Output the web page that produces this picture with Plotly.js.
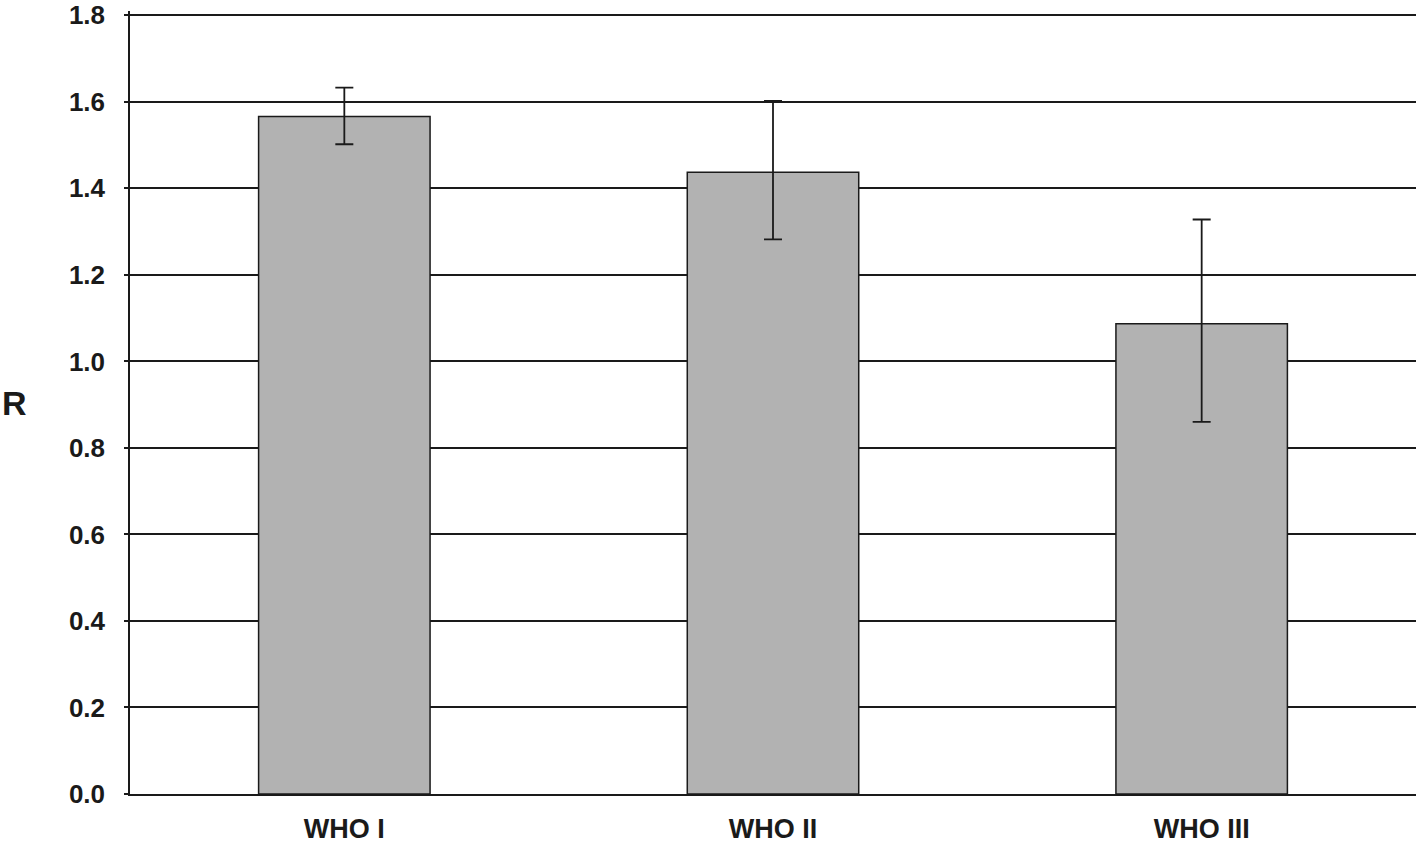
<!DOCTYPE html>
<html>
<head>
<meta charset="utf-8">
<script src="https://cdn.plot.ly/plotly-3.0.1.min.js"></script>
<style>
  html, body { margin: 0; padding: 0; background: #fff; }
  #plot { width: 1418px; height: 847px; }
</style>
</head>
<body>
<div id="plot"></div>
<script>
var groups = ["WHO I", "WHO II", "WHO III"];
var rValues = [1.566, 1.437, 1.087];
var errPlus = [0.067, 0.165, 0.241];
var errMinus = [0.064, 0.155, 0.227];
var yTicks = [0, 0.2, 0.4, 0.6, 0.8, 1.0, 1.2, 1.4, 1.6, 1.8];
var yTickText = ["0.0", "0.2", "0.4", "0.6", "0.8", "1.0", "1.2", "1.4", "1.6", "1.8"];

var trace = {
  x: groups,
  y: rValues,
  type: "bar",
  marker: {
    color: "#b2b2b2",
    line: { color: "#1a1a1a", width: 1.5 }
  },
  error_y: {
    type: "data",
    symmetric: false,
    array: errPlus,
    arrayminus: errMinus,
    color: "#1a1a1a",
    thickness: 1.8,
    width: 9
  },
  hoverinfo: "x+y"
};

var data = [trace];

var fam = "Liberation Sans, Arial, sans-serif";

var layout = {
  width: 1418,
  height: 847,
  margin: { l: 130, r: 2, t: 11, b: 53 },
  paper_bgcolor: "#ffffff",
  plot_bgcolor: "#ffffff",
  showlegend: false,
  bargap: 0.6,
  font: { family: fam, color: "#1a1a1a" },
  xaxis: {
    showline: true,
    linecolor: "#1a1a1a",
    linewidth: 1.5,
    ticks: "",
    ticklabelstandoff: 10,
    ticklabeloverflow: "allow",
    tickfont: { family: fam, size: 27, color: "#1a1a1a", weight: "bold" },
    showgrid: false,
    zeroline: false
  },
  yaxis: {
    range: [0, 1.81],
    tickvals: yTicks,
    ticktext: yTickText,
    showline: true,
    linecolor: "#1a1a1a",
    linewidth: 1.5,
    ticks: "outside",
    ticklen: 4,
    tickwidth: 1.5,
    tickcolor: "#1a1a1a",
    ticklabelstandoff: 14,
    ticklabeloverflow: "allow",
    tickfont: { family: fam, size: 26, color: "#1a1a1a", weight: "bold" },
    showgrid: true,
    gridcolor: "#1a1a1a",
    gridwidth: 1.5,
    zeroline: false
  },
  annotations: [{
    text: "R",
    xref: "paper",
    yref: "paper",
    x: -0.101,
    y: 0.5,
    xanchor: "left",
    yanchor: "middle",
    showarrow: false,
    font: { family: fam, size: 34, color: "#1a1a1a", weight: "bold" }
  }]
};

Plotly.newPlot("plot", data, layout, { displayModeBar: false });
</script>
</body>
</html>
